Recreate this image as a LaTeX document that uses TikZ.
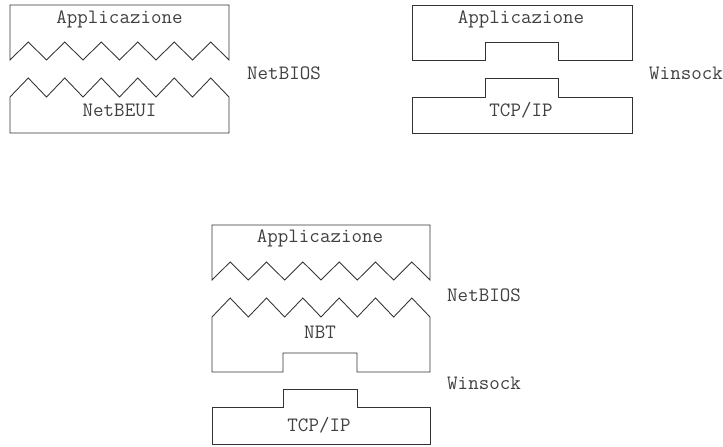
\documentclass[tikz,border=0pt]{standalone}
\usepackage{fontspec}
\begin{document}
\begin{tikzpicture}[x=0.75pt,y=-0.75pt,
  layer/.style={draw=black!80, line width=0.65pt, line join=miter},
  lbl/.style={font=\ttfamily\fontsize{15.3}{17}\selectfont, text=black!75, inner sep=0pt}]
\useasboundingbox (0,0) rectangle (723,446);

% saw-tooth edge: six teeth from x=#1 to x=#2, valleys at y=#3, tips at y=#4
\newcommand\sawedge[4]{\foreach \k in {1,...,12}{ -- ({#1+\k*(#2-#1)/12},{iseven(\k)*#3+isodd(\k)*#4}) }}

% NetBIOS over NetBEUI
\draw[layer] (10,60) -- (10,5) -- (229,5) -- (229,60) \sawedge{229}{10}{60}{42} -- cycle;
\draw[layer] (10,97) \sawedge{10}{229}{97}{78} -- (229,133) -- (10,133) -- cycle;
\node[lbl] (appA) at (119.5,19) {Applicazione};
\node[lbl] (netbeui) at (119.5,110) {NetBEUI};
\node[lbl] (nbiosA) at (284,73) {NetBIOS};

% Winsock over TCP/IP
\draw[layer] (412,60) -- (412,5) -- (632,5) -- (632,60) -- (558,60) -- (558,42) -- (485,42) -- (485,60) -- cycle;
\draw[layer] (412,97) -- (485,97) -- (485,78) -- (558,78) -- (558,97) -- (632,97) -- (632,133) -- (412,133) -- cycle;
\node[lbl] (appB) at (521,19) {Applicazione};
\node[lbl] (tcpB) at (521,110) {TCP/IP};
\node[lbl] (wsB) at (686,73) {Winsock};

% NetBIOS over NBT over TCP/IP
\draw[layer] (212,280) -- (212,225) -- (430,225) -- (430,280) \sawedge{430}{212}{280}{262} -- cycle;
\draw[layer] (212,317) \sawedge{212}{430}{317}{298} -- (430,372) -- (357,372) -- (357,353) -- (283,353) -- (283,372) -- (212,372) -- cycle;
\draw[layer] (212,407) -- (283,407) -- (283,389) -- (357,389) -- (357,407) -- (430,407) -- (430,444.5) -- (212,444.5) -- cycle;
\node[lbl] (appC) at (320,238) {Applicazione};
\node[lbl] (nbt) at (320,332) {NBT};
\node[lbl] (tcpC) at (319,425) {TCP/IP};
\node[lbl] (nbiosC) at (484,295) {NetBIOS};
\node[lbl] (wsC) at (484,383) {Winsock};
\end{tikzpicture}
\end{document}
